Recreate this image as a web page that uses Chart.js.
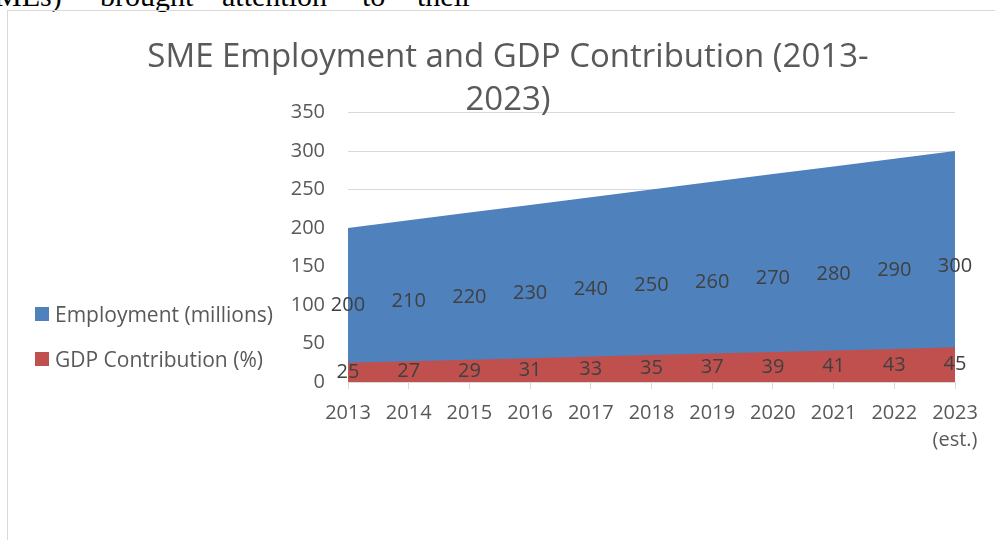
<!DOCTYPE html>
<html>
<head>
<meta charset="utf-8">
<script src="https://cdn.jsdelivr.net/npm/chart.js@4.4.0/dist/chart.umd.min.js"></script>
<style>
  html, body { margin: 0; padding: 0; background: #fff; width: 995px; height: 540px; overflow: hidden; }
  .word { position: absolute; top: -19px; font-family: "Liberation Serif", serif; font-size: 30px; line-height: 30px; color: #000; white-space: nowrap; }
  #frame { position: absolute; left: 7px; top: 10px; width: 1010px; height: 560px; border-left: 1px solid #d9d9d9; border-top: 1px solid #d9d9d9; }
  #wrap { position: absolute; left: 8px; top: 11px; width: 1000px; height: 529px; }
  #legend { position: absolute; left: 35px; top: 0; font-family: "Open Sans", sans-serif; font-size: 21px; color: #595959; }
  .item { position: absolute; left: 0; white-space: nowrap; height: 26px; line-height: 26px; }
  .box { position: absolute; left: 0; top: 6px; width: 14px; height: 14px; }
  .label { position: absolute; left: 20px; top: 0; }
</style>
</head>
<body>
<div class="word" style="left:-5px">MEs)</div>
<div class="word" style="left:100px">brought</div>
<div class="word" style="left:222px">attention</div>
<div class="word" style="left:362px">to</div>
<div class="word" style="left:417px">their</div>
<div id="frame"></div>
<div id="wrap"><canvas id="smeChart" width="1000" height="529"></canvas></div>
<div id="legend"></div>
<script>
const years = ["2013", "2014", "2015", "2016", "2017", "2018", "2019", "2020", "2021", "2022", ["2023", "(est.)"]];
const employment = [200, 210, 220, 230, 240, 250, 260, 270, 280, 290, 300];
const gdpShare = [25, 27, 29, 31, 33, 35, 37, 39, 41, 43, 45];
const seriesNames = ["Employment (millions)", "GDP Contribution (%)"];
const seriesColors = ["#4f81bd", "#c0504d"];

// value labels sit in the middle of each filled area
const midLabels = {
    id: "midLabels",
    afterDatasetsDraw(chart) {
        const ctx = chart.ctx;
        const yScale = chart.scales.y;
        ctx.save();
        ctx.font = "20px 'Open Sans'";
        ctx.fillStyle = "#404040";
        ctx.textAlign = "center";
        ctx.textBaseline = "middle";
        chart.data.datasets.forEach((ds, i) => {
            const meta = chart.getDatasetMeta(i);
            meta.data.forEach((pt, j) => {
                const v = ds.data[j];
                ctx.fillText(String(v), pt.x, yScale.getPixelForValue(v / 2));
            });
        });
        ctx.restore();
    }
};

new Chart(document.getElementById("smeChart"), {
    type: "line",
    data: {
        labels: years,
        datasets: [
            {
                label: seriesNames[0],
                data: employment,
                backgroundColor: seriesColors[0],
                borderWidth: 0,
                pointRadius: 0,
                fill: "origin",
                order: 1
            },
            {
                label: seriesNames[1],
                data: gdpShare,
                backgroundColor: seriesColors[1],
                borderWidth: 0,
                pointRadius: 0,
                fill: "origin",
                order: 0
            }
        ]
    },
    options: {
        responsive: false,
        animation: false,
        layout: {
            // equal side padding keeps the title centred on the frame
            padding: { left: 53, right: 53, top: 0, bottom: 75 }
        },
        scales: {
            x: {
                offset: false,
                grid: {
                    drawOnChartArea: false,
                    color: "#d9d9d9",
                    tickLength: 7
                },
                border: { color: "#d9d9d9" },
                ticks: {
                    color: "#595959",
                    font: { family: "Open Sans", size: 20, lineHeight: 1.35 },
                    padding: 11,
                    maxRotation: 0,
                    autoSkip: false
                }
            },
            y: {
                min: 0,
                max: 350,
                afterFit(scale) {
                    scale.width = 287;
                },
                grid: {
                    color: "#d9d9d9",
                    drawTicks: false
                },
                border: { display: false },
                ticks: {
                    stepSize: 50,
                    color: "#595959",
                    font: { family: "Open Sans", size: 20 },
                    padding: 23
                }
            }
        },
        plugins: {
            legend: { display: false },
            tooltip: { enabled: false },
            title: {
                display: true,
                text: ["SME Employment and GDP Contribution (2013-", "2023)"],
                color: "#595959",
                font: { family: "Open Sans", size: 33, weight: "normal", lineHeight: 1.3 },
                padding: { top: 25.5, bottom: -9.8 }
            }
        }
    },
    plugins: [midLabels]
});

// legend built from the series arrays
const legend = document.getElementById("legend");
const legendTops = [301, 346];
seriesNames.forEach((name, i) => {
    const item = document.createElement("div");
    item.className = "item";
    item.style.top = legendTops[i] + "px";
    item.innerHTML = '<span class="box" style="background:' + seriesColors[i] + '"></span><span class="label">' + name + '</span>';
    legend.appendChild(item);
});
</script>
</body>
</html>
